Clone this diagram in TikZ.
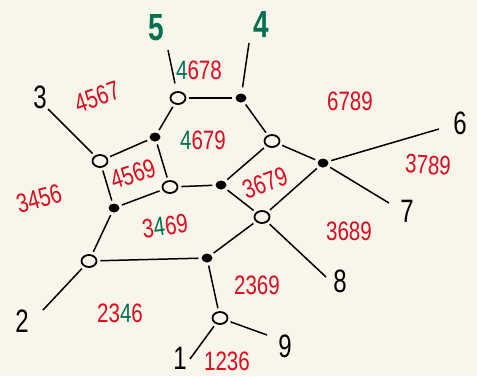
\documentclass[tikz,border=0pt]{standalone}
\usepackage{fontspec}
\usepackage{graphicx}
\setmainfont{Liberation Sans}
\usetikzlibrary{shapes.geometric}
\definecolor{bgc}{RGB}{248,246,234}
\definecolor{fred}{RGB}{222,10,30}
\definecolor{fgreen}{RGB}{0,112,82}
\newcommand\fl[1]{\scalebox{1}[1.3]{#1}}
\newcommand\ol[1]{\scalebox{1}[1.35]{#1}}
\newcommand\gf[1]{\textcolor{fgreen}{#1}}
\tikzset{
  hollow/.style={ellipse, draw, line width=1.8pt, minimum width=15pt, minimum height=12pt, inner sep=0pt, fill=bgc},
  solid dot/.style={ellipse, fill, minimum width=11pt, minimum height=9pt, inner sep=0pt},
  edge line/.style={line width=1.5pt, shorten >=3pt, shorten <=3pt},
  face/.style={text=fred, font=\fontsize{20.5}{20}\selectfont, inner sep=0pt},
  outer/.style={text=black, font=\fontsize{24}{24}\selectfont, inner sep=0pt},
  big/.style={text=fgreen, font=\bfseries\fontsize{28}{28}\selectfont, inner sep=0pt}
}
\begin{document}
\begin{tikzpicture}[x=1pt,y=-1pt]
\useasboundingbox (0,0) rectangle (477,376);
\fill[bgc] (0,0) rectangle (477,376);
% vertices
\node[hollow] (A) at (178,98) {};
\node[solid dot] (H) at (241,98) {};
\node[solid dot] (I) at (155,137) {};
\node[hollow] (B) at (100,161) {};
\node[hollow] (C) at (170,187) {};
\node[hollow] (D) at (272,141) {};
\node[solid dot] (J) at (221,185) {};
\node[solid dot] (K) at (323,163) {};
\node[hollow] (E) at (262,217) {};
\node[solid dot] (L) at (114,208) {};
\node[hollow] (F) at (89,261) {};
\node[solid dot] (M) at (207,258) {};
\node[hollow] (G) at (220,318) {};
% free ends
\coordinate (t5) at (168,50);
\coordinate (t4) at (249,43);
\coordinate (t3) at (48,109);
\coordinate (t6) at (439,129);
\coordinate (t7) at (389,203);
\coordinate (t8) at (326,277);
\coordinate (t9) at (267,335);
\coordinate (t1) at (190,359);
\coordinate (t2) at (43,310);
% edges
\draw[edge line] (A) -- (H);
\draw[edge line] (A) -- (I);
\draw[edge line] (I) -- (B);
\draw[edge line] (I) -- (C);
\draw[edge line] (B) -- (L);
\draw[edge line] (L) -- (C);
\draw[edge line] (C) -- (J);
\draw[edge line] (H) -- (D);
\draw[edge line] (D) -- (K);
\draw[edge line] (D) -- (J);
\draw[edge line] (J) -- (E);
\draw[edge line] (E) -- (K);
\draw[edge line] (L) -- (F);
\draw[edge line] (F) -- (M);
\draw[edge line] (M) -- (E);
\draw[edge line] (M) -- (G);
\draw[edge line, shorten >=0pt] (G) -- (t1);
\draw[edge line, shorten >=0pt] (G) -- (t9);
\draw[edge line, shorten >=0pt] (F) -- (t2);
\draw[edge line, shorten >=0pt] (B) -- (t3);
\draw[edge line, shorten >=0pt] (K) -- (t6);
\draw[edge line, shorten >=0pt] (K) -- (t7);
\draw[edge line, shorten >=0pt] (E) -- (t8);
\draw[edge line, shorten >=0pt, shorten <=8pt] (A) -- (t5);
\draw[edge line, shorten >=0pt, shorten <=6pt] (H) -- (t4);
% outer labels
\node[big] (l5) at (156,28) {\ol{5}};
\node[big] (l4) at (261,24) {\ol{4}};
\node[outer] (l3) at (40,97) {\ol{3}};
\node[outer] (l6) at (460,123) {\ol{6}};
\node[outer] (l7) at (407,211) {\ol{7}};
\node[outer] (l8) at (340,281) {\ol{8}};
\node[outer] (l9) at (285,346) {\ol{9}};
\node[outer] (l1) at (180,358) {\ol{1}};
\node[outer] (l2) at (22,321) {\ol{2}};
% face labels
\node[face, rotate=19] (f4567) at (97,97) {\fl{4567}};
\node[face] (f4678) at (199,70) {\fl{\gf{4}678}};
\node[face] (f4679) at (203,140) {\fl{\gf{4}679}};
\node[face, rotate=18] (f4569) at (133,174) {\fl{4569}};
\node[face, rotate=15] (f3456) at (39,199) {\fl{3456}};
\node[face, rotate=8] (f3469) at (165,226) {\fl{3\gf{4}69}};
\node[face, rotate=20] (f3679) at (265,183) {\fl{3679}};
\node[face] (f6789) at (350,101) {\fl{6789}};
\node[face, rotate=-3] (f3789) at (428,165) {\fl{3789}};
\node[face] (f3689) at (349,231) {\fl{3689}};
\node[face] (f2369) at (257,285) {\fl{2369}};
\node[face] (f2346) at (120,313) {\fl{23\gf{4}6}};
\node[face] (f1236) at (227,361) {\fl{1236}};
\end{tikzpicture}
\end{document}
